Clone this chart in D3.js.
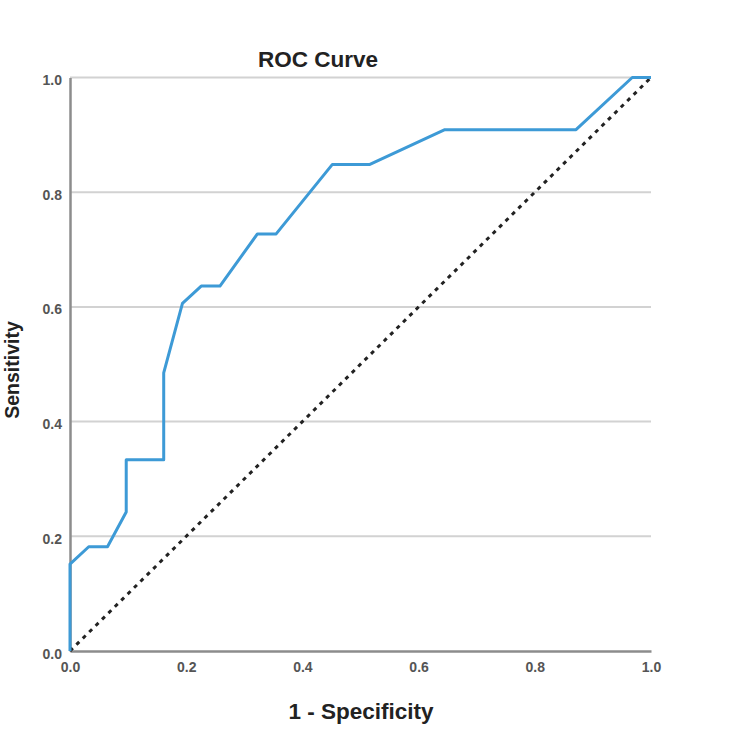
<!DOCTYPE html>
<html><head><meta charset="utf-8">
<script src="https://cdn.jsdelivr.net/npm/d3@7"></script>
<style>body{margin:0;background:#fff}</style>
</head><body>
<svg id="c" width="750" height="750"></svg>
<script>
const fpr = [0, 0, 1/31, 2/31, 3/31, 3/31, 5/31, 5/31, 6/31, 7/31, 8/31, 10/31, 11/31, 14/31, 16/31, 20/31, 27/31, 30/31, 1];
const tpr = [0, 5/33, 6/33, 6/33, 8/33, 11/33, 11/33, 16/33, 20/33, 21/33, 21/33, 24/33, 24/33, 28/33, 28/33, 30/33, 30/33, 1, 1];
const ticks = [0, 0.2, 0.4, 0.6, 0.8, 1.0];
const tickLabels = ["0.0", "0.2", "0.4", "0.6", "0.8", "1.0"];

const svg = d3.select("#c");
const L = 70, R = 651, T = 77.5, B = 651;
const x = d3.scaleLinear().domain([0, 1]).range([L, R]);
const y = d3.scaleLinear().domain([0, 1]).range([B, T]);
const font = "'Liberation Sans', Arial, sans-serif";

// gridlines
svg.append("g").selectAll("line").data(ticks.slice(1)).join("line")
  .attr("x1", L).attr("x2", R).attr("y1", d => y(d)).attr("y2", d => y(d))
  .attr("stroke", "#d2d2d2").attr("stroke-width", 2);

// axes
const xAxis = d3.axisBottom(x).tickValues(ticks).tickFormat((d, i) => tickLabels[i]).tickSize(0).tickPadding(11);
const yAxis = d3.axisLeft(y).tickValues(ticks).tickFormat((d, i) => tickLabels[i]).tickSize(0).tickPadding(8);
const gx = svg.append("g").attr("transform", `translate(0,${B})`).call(xAxis);
const gy = svg.append("g").attr("transform", `translate(${L},0)`).call(yAxis);
[gx, gy].forEach(g => {
  g.select(".domain").attr("stroke", "#8c8c8c").attr("stroke-width", 2.5);
  g.selectAll("text").attr("font-family", font).attr("font-weight", "bold")
    .attr("font-size", 14).attr("fill", "#555");
});
gy.selectAll("text").attr("dy", "0.5em");
gx.selectAll("text").attr("dy", "0.71em");

// diagonal
svg.append("line").attr("x1", x(0)).attr("y1", y(0)).attr("x2", x(1)).attr("y2", y(1))
  .attr("stroke", "#222").attr("stroke-width", 3).attr("stroke-dasharray", "4,5");

// ROC curve
const pts = fpr.map((d, i) => [d, tpr[i]]);
svg.append("path").datum(pts)
  .attr("d", d3.line().x(d => x(d[0])).y(d => y(d[1])))
  .attr("fill", "none").attr("stroke", "#3d9ad6").attr("stroke-width", 3).attr("stroke-linejoin", "round");

// titles
svg.append("text").attr("x", 318).attr("y", 67).attr("text-anchor", "middle")
  .attr("font-family", font).attr("font-weight", "bold").attr("font-size", 22.5).attr("fill", "#222").text("ROC Curve");
svg.append("text").attr("x", 361).attr("y", 719).attr("text-anchor", "middle")
  .attr("font-family", font).attr("font-weight", "bold").attr("font-size", 22.5).attr("fill", "#222").text("1 - Specificity");
svg.append("text").attr("transform", "translate(19,370) rotate(-90)").attr("text-anchor", "middle")
  .attr("font-family", font).attr("font-weight", "bold").attr("font-size", 19.5).attr("fill", "#222").text("Sensitivity");
</script>
</body></html>
